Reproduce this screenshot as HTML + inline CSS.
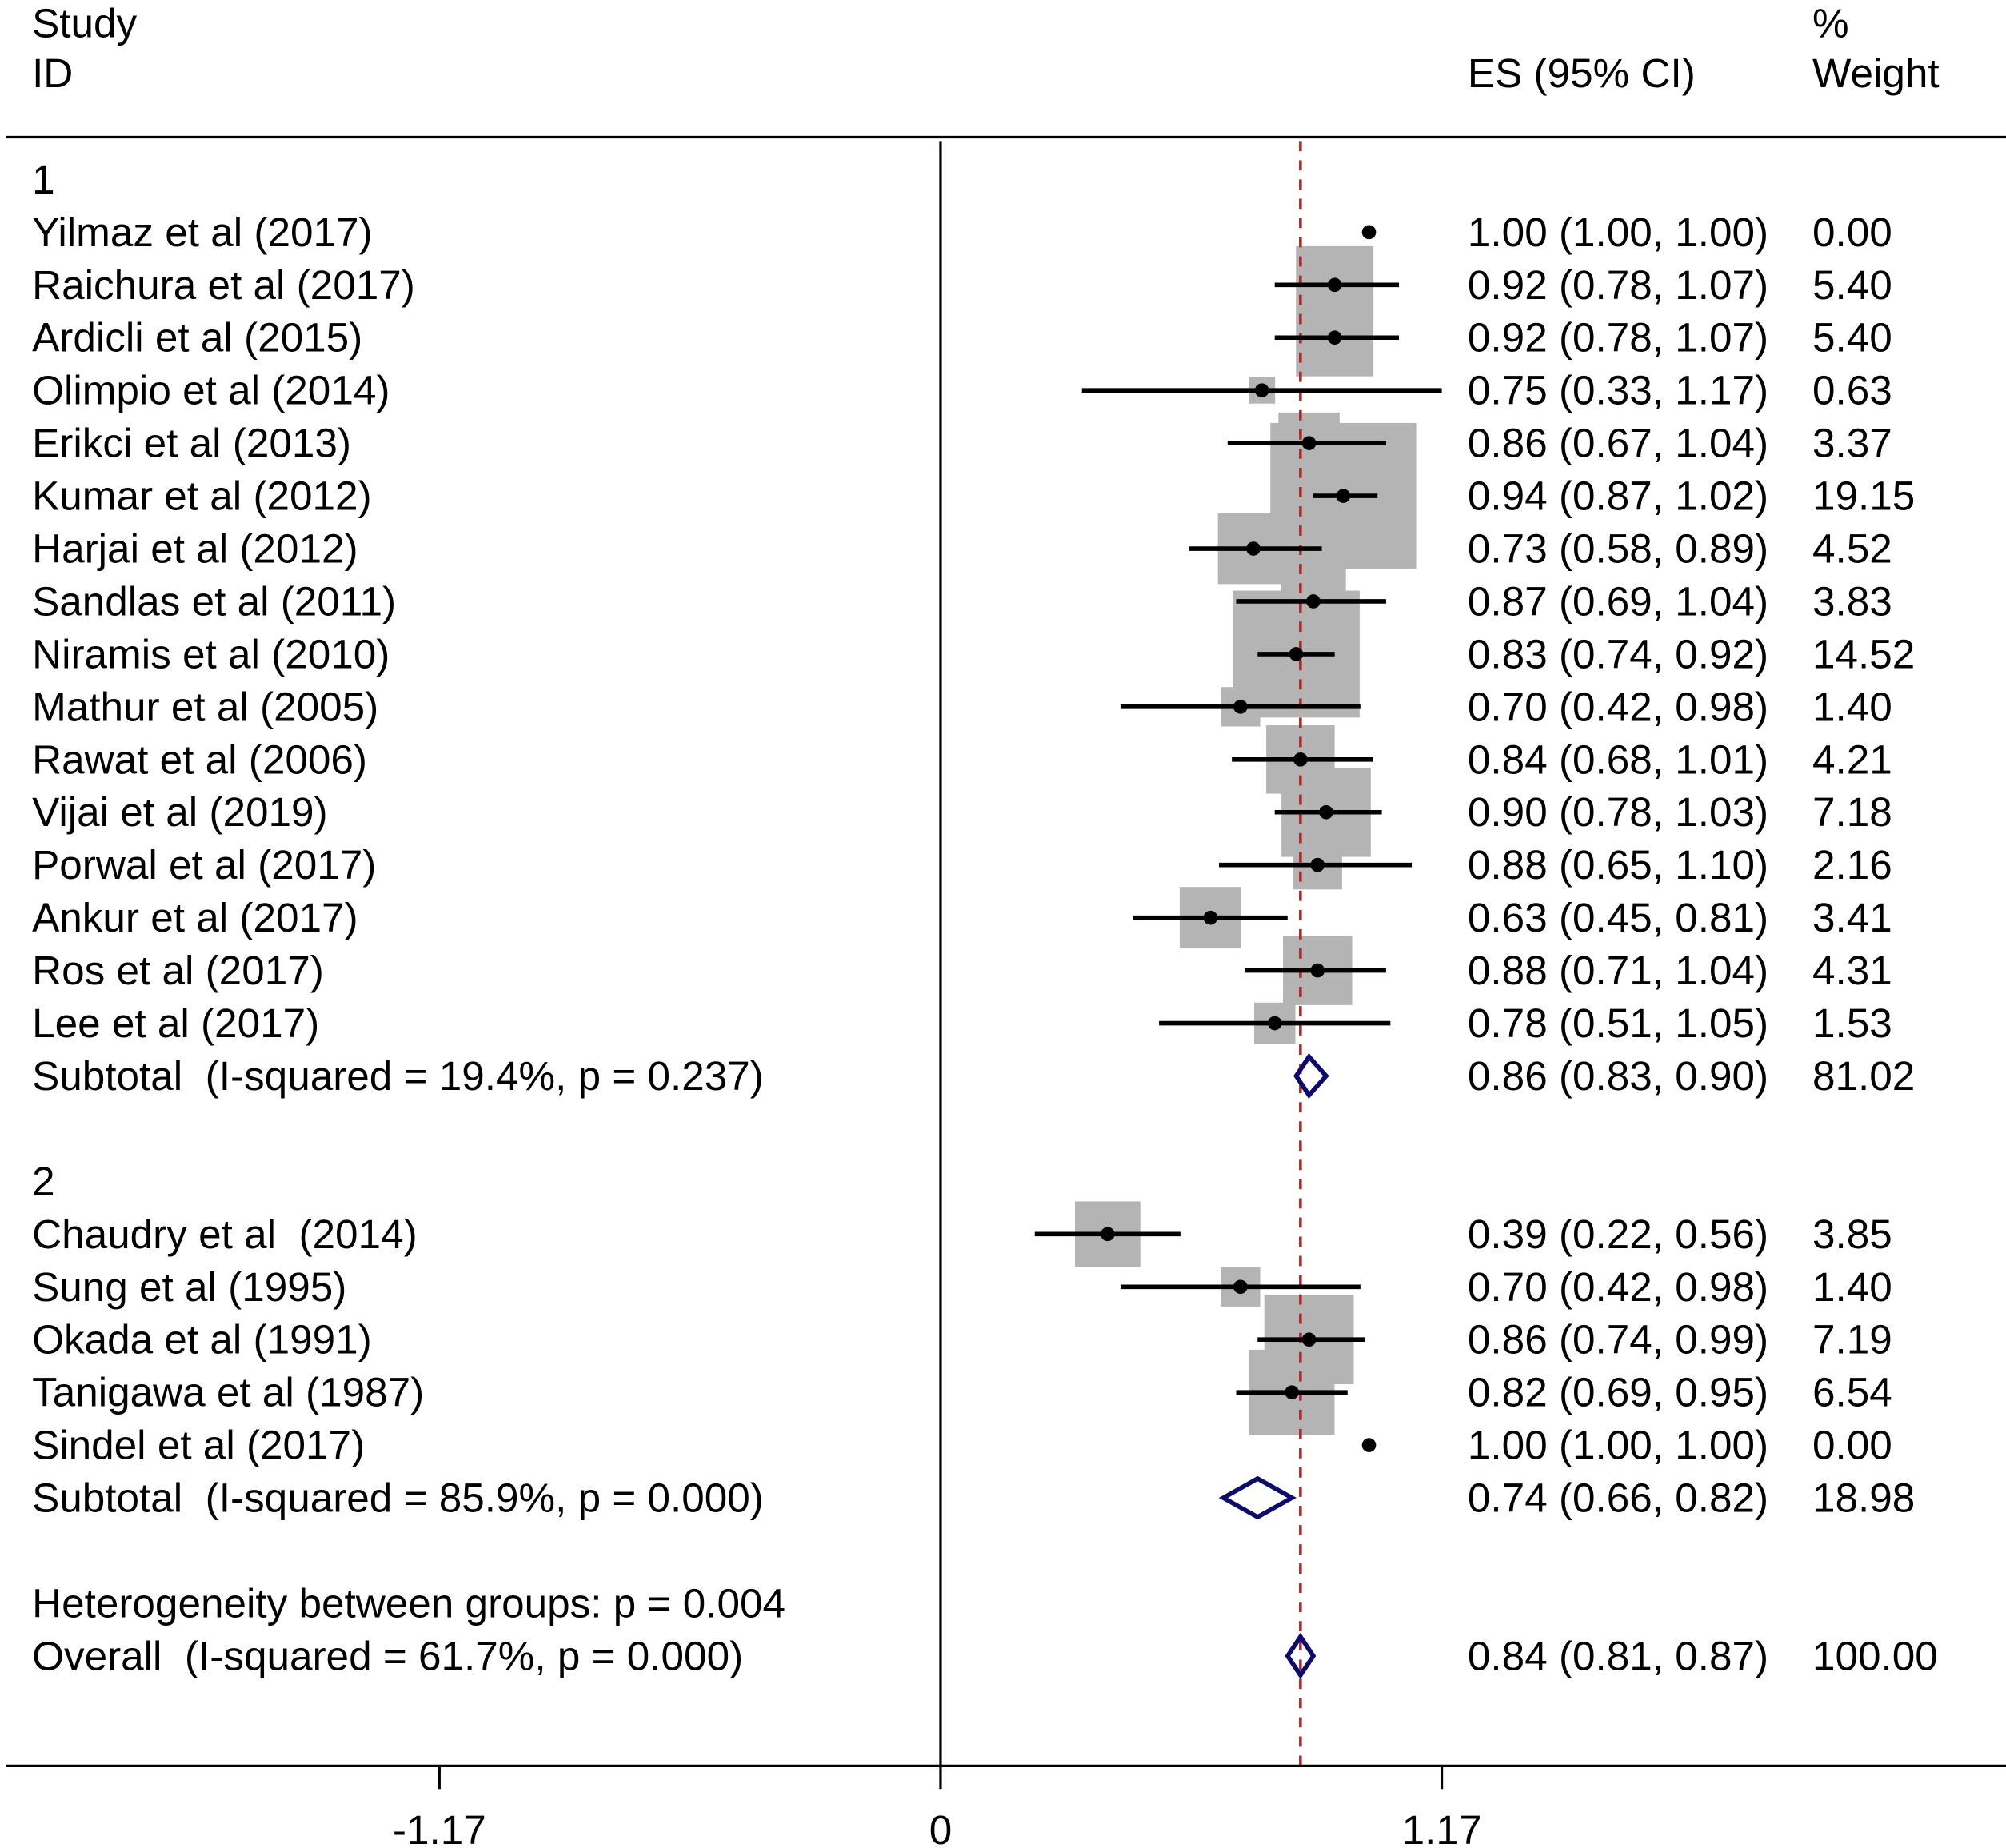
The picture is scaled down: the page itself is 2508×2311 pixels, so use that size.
<!DOCTYPE html>
<html><head><meta charset="utf-8"><style>
html,body{margin:0;padding:0;background:#fff}
svg{display:block}
text{font-family:"Liberation Sans",Arial,sans-serif;font-size:32px;fill:#000;white-space:pre}
</style></head><body>
<svg id="chart" width="2508" height="2311" viewBox="0 0 1565 1442" xmlns="http://www.w3.org/2000/svg" xml:space="preserve">
<text x="25" y="18" dominant-baseline="central">Study</text>
<text x="25" y="57" dominant-baseline="central">ID</text>
<text x="1145" y="57" dominant-baseline="central">ES (95% CI)</text>
<text x="1414" y="18" dominant-baseline="central">%</text>
<text x="1414" y="57" dominant-baseline="central">Weight</text>
<line x1="5" y1="107" x2="1565" y2="107" stroke="#000" stroke-width="2"/>
<g id="marks"></g>
</svg>
<script>
const labels = ["1","Yilmaz et al (2017)","Raichura et al (2017)","Ardicli et al (2015)","Olimpio et al (2014)","Erikci et al (2013)","Kumar et al (2012)","Harjai et al (2012)","Sandlas et al (2011)","Niramis et al (2010)","Mathur et al (2005)","Rawat et al (2006)","Vijai et al (2019)","Porwal et al (2017)","Ankur et al (2017)","Ros et al (2017)","Lee et al (2017)","Subtotal  (I-squared = 19.4%, p = 0.237)","","2","Chaudry et al  (2014)","Sung et al (1995)","Okada et al (1991)","Tanigawa et al (1987)","Sindel et al (2017)","Subtotal  (I-squared = 85.9%, p = 0.000)","","Heterogeneity between groups: p = 0.004","Overall  (I-squared = 61.7%, p = 0.000)"];
const rowType = ["g","s","s","s","s","s","s","s","s","s","s","s","s","s","s","s","s","d","","g","s","s","s","s","s","d","","h","d"];
const es = [null,1.00,0.92,0.92,0.75,0.86,0.94,0.73,0.87,0.83,0.70,0.84,0.90,0.88,0.63,0.88,0.78,0.86,null,null,0.39,0.70,0.86,0.82,1.00,0.74,null,null,0.84];
const lo = [null,1.00,0.78,0.78,0.33,0.67,0.87,0.58,0.69,0.74,0.42,0.68,0.78,0.65,0.45,0.71,0.51,0.83,null,null,0.22,0.42,0.74,0.69,1.00,0.66,null,null,0.81];
const hi = [null,1.00,1.07,1.07,1.17,1.04,1.02,0.89,1.04,0.92,0.98,1.01,1.03,1.10,0.81,1.04,1.05,0.90,null,null,0.56,0.98,0.99,0.95,1.00,0.82,null,null,0.87];
const weights = [null,"0.00","5.40","5.40","0.63","3.37","19.15","4.52","3.83","14.52","1.40","4.21","7.18","2.16","3.41","4.31","1.53","81.02",null,null,"3.85","1.40","7.19","6.54","0.00","18.98",null,null,"100.00"];
const overallES = 0.84;
const ticks = [-1.17, 0, 1.17];
const tickLabels = ["-1.17","0","1.17"];

const NS="http://www.w3.org/2000/svg";
const g=document.getElementById('marks');
const X0=733.8, PX=334.2;
const xs=v=>X0+v*PX;
const ys=i=>140+i*41.15;
function mk(tag,attrs,parent){const e=document.createElementNS(NS,tag);for(const k in attrs)e.setAttribute(k,attrs[k]);(parent||g).appendChild(e);return e;}
function txt(x,y,s){const t=mk('text',{x:x,y:y,'dominant-baseline':'central'});t.textContent=s;return t;}

rowType.forEach((t,i)=>{
  if(t!=="s")return;
  const w=parseFloat(weights[i]); if(w<=0)return;
  const side=26*Math.sqrt(w);
  const r=mk('rect',{x:xs(es[i])-side/2,y:ys(i)-side/2,width:side,height:side,fill:'#b4b4b4'});
  
  
});
const vl=mk('line',{x1:X0,y1:110,x2:X0,y2:1378,stroke:'#000','stroke-width':2});


const dl=mk('line',{x1:xs(overallES),y1:110,x2:xs(overallES),y2:1378,stroke:'#a52a2a','stroke-width':2.2,'stroke-dasharray':'8,7'});



rowType.forEach((t,i)=>{
  const y=ys(i);
  if(labels[i]){const l=txt(25,y,labels[i]);
    
    }
  if(t==="s"){
    if(hi[i]>lo[i]){const ci=mk('line',{x1:xs(lo[i]),y1:y,x2:xs(hi[i]),y2:y,stroke:'#000','stroke-width':3.5});
      
      }
    const p=mk('circle',{cx:xs(es[i]),cy:y,r:5.5,fill:'#000'});
    
    
  }
  if(t==="d"){
    const a=xs(lo[i]),b=xs(hi[i]),c=xs(es[i]);
    const d=mk('polygon',{points:`${a},${y} ${c},${y-15} ${b},${y} ${c},${y+15}`,fill:'none',stroke:'#0a0a70','stroke-width':3.5});
    
    
  }
  if(es[i]!==null){
    const e=txt(1145,y,`${es[i].toFixed(2)} (${lo[i].toFixed(2)}, ${hi[i].toFixed(2)})`);
    
    
    const w=txt(1414,y,weights[i]);
    
    
  }
});
const ax=mk('line',{x1:5,y1:1378,x2:1565,y2:1378,stroke:'#000','stroke-width':2});


ticks.forEach((v,k)=>{
  const tk=mk('line',{x1:xs(v),y1:1378,x2:xs(v),y2:1396,stroke:'#000','stroke-width':2});
  
  
  const tl=txt(xs(v),1428,tickLabels[k]);
  tl.setAttribute('text-anchor','middle');
  
  
});
</script>
</body></html>
